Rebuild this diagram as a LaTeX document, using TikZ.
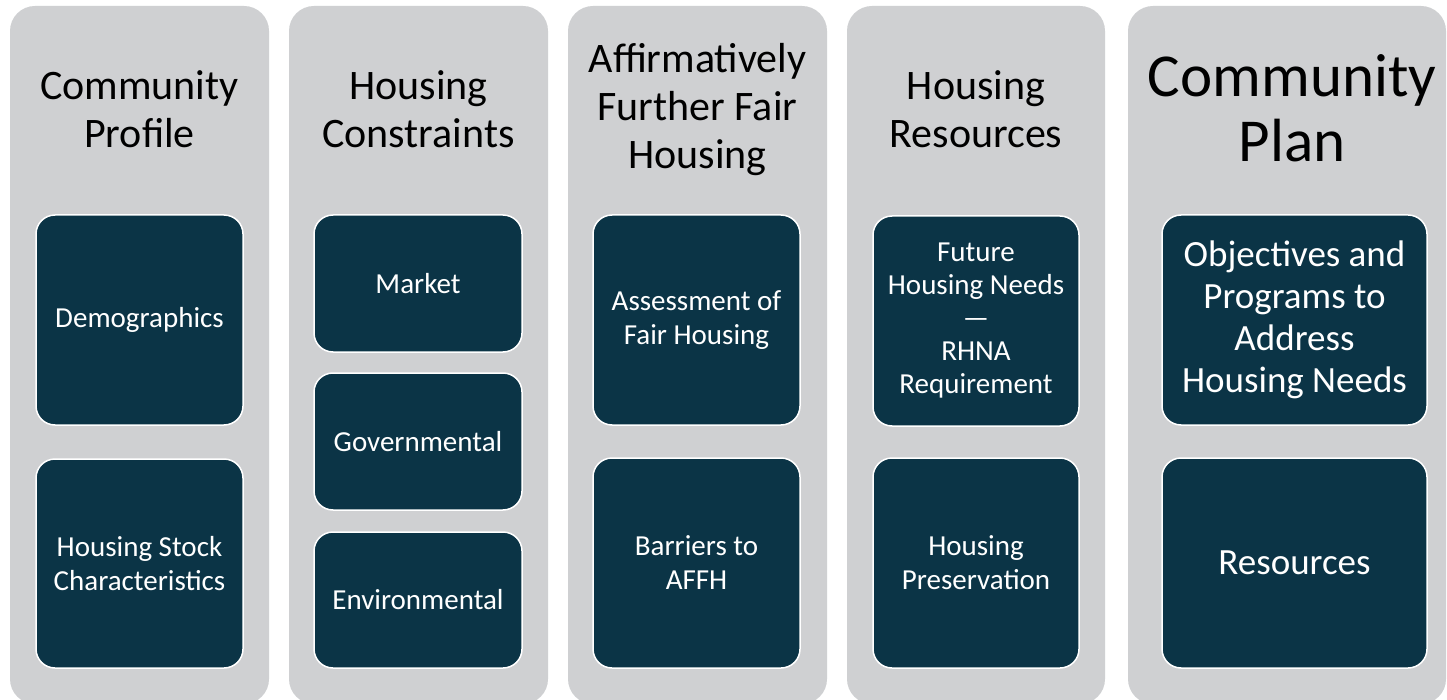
\documentclass[tikz,border=0pt]{standalone}
\usepackage{fontspec}
\setmainfont{Carlito}
\definecolor{panelgray}{HTML}{CFD0D2}
\definecolor{tileblue}{HTML}{0B3446}
\begin{document}
\begin{tikzpicture}[x=1pt,y=-1pt,
  column/.style={fill=panelgray, rounded corners=25pt, inner sep=0pt},
  head/.style={align=center, text=black, inner sep=0pt, font=\fontsize{42}{48}\selectfont},
  bighead/.style={head, font=\fontsize{61}{65}\selectfont},
  tile/.style={draw=white, line width=1.5pt, fill=tileblue, rounded corners=19pt,
    text=white, align=center, inner sep=0pt, font=\fontsize{29}{34}\selectfont},
  bigtile/.style={tile, font=\fontsize{37}{42}\selectfont},
]
\useasboundingbox (0,0) rectangle (1447,700);
\clip (0,0) rectangle (1447,700);
\fill[white] (0,0) rectangle (1447,700);

% gray columns
\node[column, minimum width=259pt, minimum height=698pt] (c1) at (139.5,355) {};
\node[column, minimum width=259pt, minimum height=698pt] (c2) at (418.5,355) {};
\node[column, minimum width=259pt, minimum height=698pt] (c3) at (697.5,355) {};
\node[column, minimum width=258pt, minimum height=698pt] (c4) at (976,355) {};
\node[column, minimum width=318pt, minimum height=698pt] (c5) at (1287,355) {};

% column headings
\node[head] (h1) at (139.5,109) {Community\\Profile};
\node[head] (h2) at (418.5,109) {Housing\\Constraints};
\node[head] (h3) at (697.5,110) {Affirmatively\\Further Fair\\Housing};
\node[head] (h4) at (976,109) {Housing\\Resources};
\node[bighead] (h5) at (1292,108) {Community\\Plan};

% Community Profile
\node[tile, minimum width=207pt, minimum height=210pt] (t11) at (139.5,320) {Demographics};
\node[tile, minimum width=207pt, minimum height=209pt] (t12) at (139.5,563.5) {Housing Stock\\Characteristics};

% Housing Constraints
\node[tile, minimum width=208pt, minimum height=137pt] (t21) at (418,283.5) {Market};
\node[tile, minimum width=208pt, minimum height=137pt] (t22) at (418,441.5) {Governmental};
\node[tile, minimum width=208pt, minimum height=136pt] (t23) at (418,600) {Environmental};

% Affirmatively Further Fair Housing
\node[tile, minimum width=207pt, minimum height=210pt] (t31) at (696.5,320) {Assessment of\\Fair Housing};
\node[tile, minimum width=207pt, minimum height=210pt] (t32) at (696.5,563) {Barriers to\\AFFH};

% Housing Resources
\node[tile, minimum width=206pt, minimum height=210pt, font=\fontsize{29}{33}\selectfont] (t41) at (976,321) {Future\\Housing Needs\\—\\RHNA\\Requirement};
\node[tile, minimum width=206pt, minimum height=210pt] (t42) at (976,563) {Housing\\Preservation};

% Community Plan
\node[bigtile, minimum width=265pt, minimum height=210pt] (t51) at (1294.5,320) {Objectives and\\Programs to\\Address\\Housing Needs};
\node[bigtile, minimum width=265pt, minimum height=210pt] (t52) at (1294.5,563) {Resources};
\end{tikzpicture}
\end{document}
